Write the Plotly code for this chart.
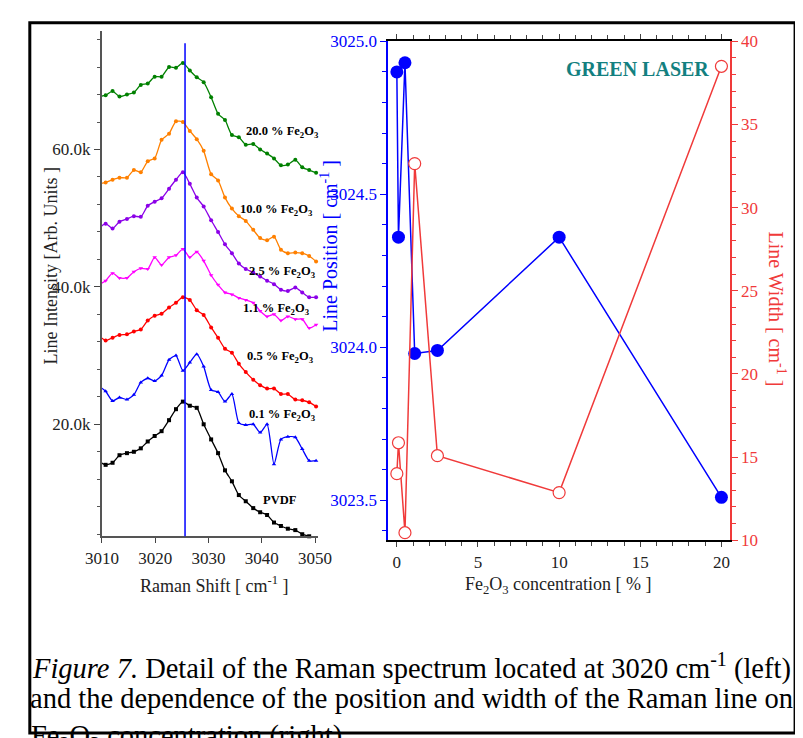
import plotly.graph_objects as go

W, H = 803, 738
def px(x): return x / W
def py(y): return 1 - y / H

shift = [3009.4, 3010.7, 3012.0, 3013.3, 3014.7, 3016.0, 3017.3, 3018.6, 3019.9, 3021.2,
         3022.6, 3023.9, 3025.2, 3026.5, 3027.8, 3029.1, 3030.5, 3031.8, 3033.1, 3034.4,
         3035.7, 3037.0, 3038.4, 3039.7, 3041.0, 3042.3, 3043.6, 3044.9, 3046.3, 3047.6,
         3048.9, 3050.2]
pvdf = [14.6, 14.1, 14.4, 15.5, 15.8, 16.0, 16.5, 17.5, 18.3, 19.0, 20.6, 22.2, 23.3, 22.7, 22.4, 20.0,
        17.8, 15.8, 13.3, 11.7, 9.7, 8.8, 7.8, 7.2, 6.8, 5.7, 5.2, 4.8, 4.6, 4.0, 3.7, 3.2]
fe01 = [25.6, 24.8, 23.4, 23.9, 23.6, 24.3, 26.1, 26.7, 26.3, 27.1, 29.4, 30.0, 27.8, 29.0, 30.2, 28.4,
        25.0, 24.7, 23.3, 24.4, 20.2, 19.9, 20.0, 18.8, 20.0, 14.2, 17.8, 18.2, 18.1, 16.4, 14.7, 14.7]
fe05 = [32.9, 32.2, 32.6, 33.0, 33.1, 33.5, 33.8, 35.1, 35.8, 36.1, 37.0, 37.7, 38.5, 38.1, 36.6, 35.9,
        34.1, 32.6, 31.0, 30.4, 28.8, 27.6, 26.5, 25.7, 25.2, 25.2, 24.4, 24.4, 23.6, 23.5, 23.2, 22.6]
fe11 = [40.3, 40.9, 42.0, 41.3, 41.3, 42.2, 42.7, 42.6, 44.3, 43.2, 44.3, 44.6, 45.5, 44.3, 45.1, 43.8,
        41.7, 40.3, 39.2, 38.9, 38.4, 38.1, 37.7, 36.5, 35.7, 36.0, 35.1, 35.7, 35.3, 35.3, 34.0, 34.5]
fe25 = [48.5, 49.2, 48.5, 49.5, 49.9, 50.3, 50.2, 51.8, 52.4, 52.9, 54.3, 55.6, 56.7, 55.0, 53.0, 51.7,
        49.7, 48.0, 46.2, 44.9, 43.4, 42.6, 42.1, 41.5, 40.9, 40.4, 39.6, 39.4, 39.9, 39.2, 38.5, 38.5]
fe10 = [55.0, 55.2, 55.6, 55.9, 55.9, 57.0, 56.7, 58.3, 58.7, 61.4, 62.3, 64.1, 64.0, 62.7, 61.5, 59.8,
        56.4, 55.5, 53.0, 51.4, 50.3, 49.6, 48.3, 47.1, 46.8, 47.3, 45.4, 44.9, 45.0, 44.9, 44.5, 43.7]
fe20 = [67.7, 67.9, 68.5, 67.7, 68.0, 68.3, 69.4, 69.6, 70.6, 70.6, 72.0, 71.9, 72.6, 71.5, 70.5, 69.8,
        67.6, 65.2, 64.3, 62.1, 61.8, 60.7, 60.8, 60.0, 59.4, 58.7, 57.7, 57.8, 58.5, 57.4, 57.0, 56.6]

conc = [0, 0.1, 0.5, 1.1, 2.5, 10, 20]
position = [3024.90, 3024.36, 3024.93, 3023.98, 3023.99, 3024.36, 3023.51]
width = [14.0, 15.86, 10.45, 32.65, 15.08, 12.86, 38.5]
peak_line = 3025.6

FONT = "Liberation Serif"
fig = go.Figure()
spectra = [
    (pvdf, "black", "square", "PVDF"),
    (fe01, "blue", "triangle-up", "0.1 %"),
    (fe05, "red", "circle", "0.5 %"),
    (fe11, "magenta", "triangle-down", "1.1 %"),
    (fe25, "#8B00E8", "circle", "2.5 %"),
    (fe10, "#FF8000", "circle", "10.0 %"),
    (fe20, "green", "circle", "20.0 %"),
]
for ys, c, sym, nm in spectra:
    fig.add_trace(go.Scatter(x=shift, y=[v * 1000 for v in ys], mode="lines+markers", name=nm,
                             line=dict(color=c, width=1.3, shape="spline", smoothing=0.6),
                             marker=dict(color=c, symbol=sym, size=4), cliponaxis=False,
                             xaxis="x", yaxis="y", showlegend=False))

fig.add_trace(go.Scatter(x=conc, y=position, mode="lines+markers", line=dict(color="blue", width=1.5),
                         marker=dict(color="blue", size=13), xaxis="x2", yaxis="y2",
                         showlegend=False, cliponaxis=False))
fig.add_trace(go.Scatter(x=conc, y=width, mode="lines+markers", line=dict(color="#F03A3A", width=1.5),
                         marker=dict(color="white", size=12, line=dict(color="#F03A3A", width=1.2)),
                         xaxis="x2", yaxis="y3", showlegend=False, cliponaxis=False))

tf = dict(family=FONT, size=17, color="#222")
fig.update_layout(
    width=W, height=H, margin=dict(l=0, r=0, t=0, b=0),
    paper_bgcolor="white", plot_bgcolor="white", font=dict(family=FONT),
    xaxis=dict(domain=[px(80), px(305)], range=[3010, 3050.6], tickvals=[3010, 3020, 3030, 3040, 3050],
               ticks="outside", ticklen=5, showgrid=False, zeroline=False, showline=True,
               linecolor="#555", linewidth=2, tickfont=tf, anchor="y"),
    yaxis=dict(domain=[py(533), py(14)], range=[3700, 77300], tickvals=[20000, 40000, 60000],
               ticktext=["20.0k", "40.0k", "60.0k"], ticks="outside", ticklen=6,
               minor=dict(dtick=4000, tick0=0, ticks="outside", ticklen=3, tickcolor="#555"),
               showgrid=False, zeroline=False, showline=True, linecolor="#555", linewidth=2,
               tickfont=tf, anchor="x"),
    xaxis2=dict(domain=[px(378), px(733)], range=[-0.52, 20.51], tickvals=[0, 5, 10, 15, 20],
                ticks="outside", ticklen=5, minor=dict(dtick=1, ticks="outside", ticklen=4),
                showgrid=False, zeroline=False, showline=True, linecolor="black", linewidth=2,
                mirror="ticks", tickfont=tf, anchor="y2"),
    yaxis2=dict(domain=[py(537), py(25)], range=[3023.37, 3025.0], tickvals=[3023.5, 3024.0, 3024.5, 3025.0],
                ticktext=["3023.5", "3024.0", "3024.5", "3025.0"], ticks="outside", ticklen=6,
                minor=dict(dtick=0.1, ticks="outside", ticklen=4, tickcolor="blue"),
                tickcolor="blue", showgrid=False, zeroline=False, showline=True, linecolor="blue",
                linewidth=2, tickfont=dict(family=FONT, size=17, color="blue"), anchor="x2"),
    yaxis3=dict(domain=[py(537), py(25)], range=[10, 40], overlaying="y2", side="right",
                tickvals=[10, 15, 20, 25, 30, 35, 40], ticks="outside", ticklen=6,
                minor=dict(dtick=1, ticks="outside", ticklen=4, tickcolor="#F03A3A"),
                tickcolor="#F03A3A", showgrid=False, zeroline=False, showline=True,
                linecolor="#F03A3A", linewidth=2, anchor="x2",
                tickfont=dict(family=FONT, size=17, color="#F03A3A")),
)

fig.add_shape(type="line", xref="x", yref="paper", x0=peak_line, x1=peak_line, y0=py(533), y1=py(27),
              line=dict(color="blue", width=1.5))
fig.add_shape(type="rect", xref="paper", yref="paper", x0=px(5), x1=px(801), y0=py(735), y1=py(6),
              line=dict(color="black", width=3))

def ann(text, x, y, size=18, color="#222", angle=0):
    fig.add_annotation(text=text, x=px(x), y=py(y), xref="paper", yref="paper", showarrow=False,
                       xanchor="center", yanchor="middle", textangle=angle,
                       font=dict(family=FONT, size=size, color=color))

labels = [("20.0 % Fe<sub>2</sub>O<sub>3</sub>", 268, 118), ("10.0 % Fe<sub>2</sub>O<sub>3</sub>", 262, 198),
          ("2.5 % Fe<sub>2</sub>O<sub>3</sub>", 268, 262), ("1.1 % Fe<sub>2</sub>O<sub>3</sub>", 262, 300),
          ("0.5 % Fe<sub>2</sub>O<sub>3</sub>", 266, 349), ("0.1 % Fe<sub>2</sub>O<sub>3</sub>", 268, 409),
          ("PVDF", 265, 496)]
for t, x, y in labels:
    ann("<b>" + t + "</b>", x, y, size=12.5, color="black")

ann("Line Intensity [Arb. Units ]", 27, 255, angle=-90)
ann("Raman Shift [ cm<sup>-1</sup> ]", 197, 582)
ann("Line Position [ cm<sup>-1</sup> ]", 316, 235, size=20, color="blue", angle=-90)
ann("Line Width [ cm<sup>-1</sup> ]", 782, 300, size=20, color="#F03A3A", angle=90)
ann("Fe<sub>2</sub>O<sub>3</sub> concentration [ % ]", 555, 584)
ann("<b>GREEN LASER</b>", 637, 53, size=20, color="#138080")
ann("<i>Figure 7.</i> Detail of the Raman spectrum located at 3020 cm<sup>-1</sup> (left)", 402, 667, size=28.5, color="black")
ann("and the dependence of the position and width of the Raman line on", 402, 700, size=28.5, color="black")
ann("Fe<sub>2</sub>O<sub>3</sub> concentration (right).", 172, 740, size=28.5, color="black")

fig.write_html("out.html")
